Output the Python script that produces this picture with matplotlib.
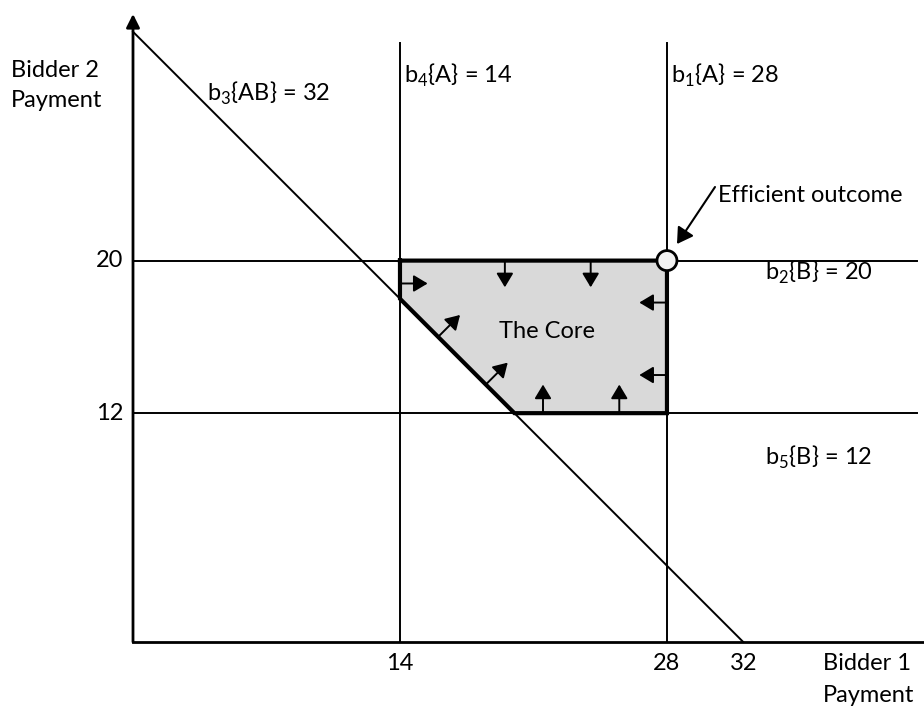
import matplotlib.pyplot as plt
from matplotlib.patches import Polygon, Circle

plt.rcParams['font.family'] = ['Lato', 'DejaVu Sans']
plt.rcParams['mathtext.fontset'] = 'custom'
plt.rcParams['mathtext.rm'] = 'Lato'

# bids on single items and on the package
b1_A = 28
b2_B = 20
b3_AB = 32
b4_A = 14
b5_B = 12

x_ticks = [14, 28, 32]
y_ticks = [20, 12]

# corners of the core (bidder 1 payment, bidder 2 payment)
core_x = [14, 28, 28, 20, 14]
core_y = [20, 20, 12, 12, 18]

# small arrows pointing into the core: (start x, start y, dx, dy)
core_arrows = [
    (14, 18.8, 1.45, 0),
    (19.5, 20, 0, -1.4),
    (24.0, 20, 0, -1.4),
    (28, 17.8, -1.45, 0),
    (28, 14.0, -1.45, 0),
    (21.5, 12, 0, 1.5),
    (25.5, 12, 0, 1.5),
    (16.0, 16.0, 1.15, 1.15),
    (18.5, 13.5, 1.15, 1.15),
]

# one payment unit = s pixels, origin of the diagram at pixel (133, 642)
s = 19.07
fig = plt.figure(figsize=(9.24, 7.09), dpi=100)
ax = fig.add_axes([0, 0, 1, 1])
ax.set_xlim(-133 / s, (924 - 133) / s)
ax.set_ylim(-(709 - 642) / s, 642 / s)
ax.axis('off')


def px(x, y):
    return (x - 133) / s, (642 - y) / s


x_right = (924 - 133) / s
line_end = (917 - 133) / s
top = (642 - 43) / s
thin = 1.4

# core region
ax.add_patch(Polygon(list(zip(core_x, core_y)), closed=True,
                     facecolor='#d9d9d9', edgecolor='none', zorder=1))

# bid lines
ax.plot([b4_A, b4_A], [0, top], color='black', lw=thin, zorder=2)
ax.plot([b1_A, b1_A], [0, top], color='black', lw=thin, zorder=2)
ax.plot([0, line_end], [b2_B, b2_B], color='black', lw=thin, zorder=2)
ax.plot([0, line_end], [b5_B, b5_B], color='black', lw=thin, zorder=2)
ax.plot([0, b3_AB], [b3_AB, 0], color='black', lw=thin, zorder=2)

# core boundary
ax.plot(core_x + [core_x[0]], core_y + [core_y[0]], color='black', lw=3,
        solid_joinstyle='miter', zorder=3)

# axes
ax.plot([0, x_right], [0, 0], color='black', lw=2, zorder=4)
ax.annotate('', xy=px(133, 14), xytext=(0, 0),
            arrowprops=dict(arrowstyle='-|>', color='black', lw=2,
                            mutation_scale=20, shrinkA=0, shrinkB=0), zorder=4)

for x0, y0, dx, dy in core_arrows:
    ax.annotate('', xy=(x0 + dx, y0 + dy), xytext=(x0, y0),
                arrowprops=dict(arrowstyle='-|>,head_length=0.5,head_width=0.3',
                                color='black', lw=1.4,
                                mutation_scale=17, shrinkA=0, shrinkB=0),
                zorder=5)

# efficient outcome
ax.add_patch(Circle((b1_A, b2_B), 10 / s, facecolor='#f2f2f2',
                    edgecolor='black', lw=2, zorder=6))
ax.annotate('', xy=px(677, 244), xytext=px(715, 187),
            arrowprops=dict(arrowstyle='-|>,head_length=0.5,head_width=0.3',
                            color='black', lw=1.5,
                            mutation_scale=19, shrinkA=0, shrinkB=0), zorder=6)

fs = 17
ax.text(*px(718, 195), 'Efficient outcome', fontsize=fs, ha='left', va='center')

# tick labels
for v in x_ticks:
    ax.text(v, px(0, 663)[1], str(v), fontsize=fs, ha='center', va='center')
for v in y_ticks:
    ax.text(px(123, 0)[0], v, str(v), fontsize=fs, ha='right', va='center')

# axis titles
ax.text(*px(11, 71), 'Bidder 2', fontsize=fs, ha='left', va='center')
ax.text(*px(11, 101), 'Payment', fontsize=fs, ha='left', va='center')
ax.text(*px(823, 664), 'Bidder 1', fontsize=fs, ha='left', va='center')
ax.text(*px(823, 696), 'Payment', fontsize=fs, ha='left', va='center')

# bid labels
sub = lambda n: r'b$_{\mathrm{' + str(n) + '}}$'
ax.text(b4_A + 4 / s, px(0, 75)[1], sub(4) + '{A} = ' + str(b4_A),
        fontsize=fs, ha='left', va='center')
ax.text(b1_A + 4 / s, px(0, 75)[1], sub(1) + '{A} = ' + str(b1_A),
        fontsize=fs, ha='left', va='center')
ax.text(*px(207, 93), sub(3) + '{AB} = ' + str(b3_AB),
        fontsize=fs, ha='left', va='center')
ax.text(*px(765, 272), sub(2) + '{B} = ' + str(b2_B),
        fontsize=fs, ha='left', va='center')
ax.text(*px(765, 457), sub(5) + '{B} = ' + str(b5_B),
        fontsize=fs, ha='left', va='center')

ax.text(*px(547, 332), 'The Core', fontsize=fs, ha='center', va='center')

fig.savefig('out.png', dpi=100)
